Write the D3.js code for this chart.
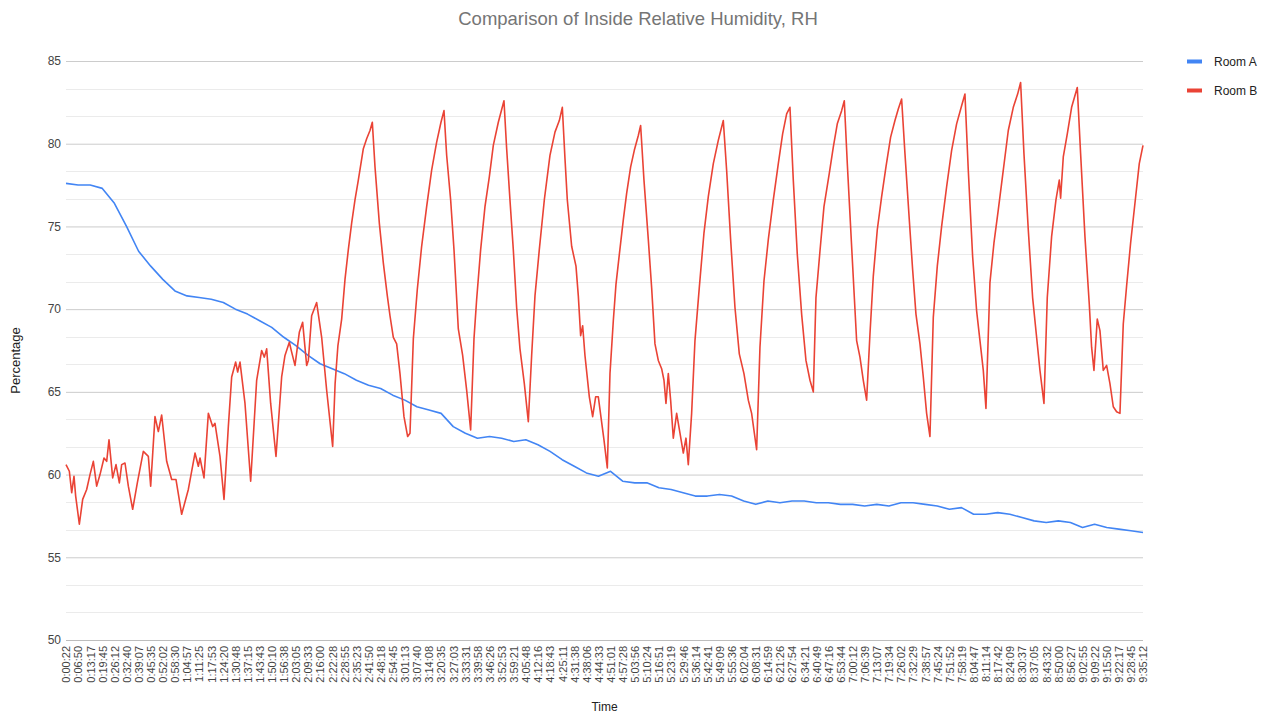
<!DOCTYPE html>
<html>
<head>
<meta charset="utf-8">
<script src="https://cdn.jsdelivr.net/npm/d3@7"></script>
<style>
  body { margin: 0; background: #fff; }
  svg { font-family: "Liberation Sans", Arial, sans-serif; }
</style>
</head>
<body>
<div class="chart"></div>
<script>
// category labels shown on the time axis
var tickLabels = [
  "0:00:22","0:06:50","0:13:17","0:19:45","0:26:12","0:32:40","0:39:07","0:45:35","0:52:02","0:58:30",
  "1:04:57","1:11:25","1:17:53","1:24:20","1:30:48","1:37:15","1:43:43","1:50:10","1:56:38","2:03:05",
  "2:09:33","2:16:00","2:22:28","2:28:55","2:35:23","2:41:50","2:48:18","2:54:45","3:01:13","3:07:40",
  "3:14:08","3:20:35","3:27:03","3:33:31","3:39:58","3:46:26","3:52:53","3:59:21","4:05:48","4:12:16",
  "4:18:43","4:25:11","4:31:38","4:38:06","4:44:33","4:51:01","4:57:28","5:03:56","5:10:24","5:16:51",
  "5:23:19","5:29:46","5:36:14","5:42:41","5:49:09","5:55:36","6:02:04","6:08:31","6:14:59","6:21:26",
  "6:27:54","6:34:21","6:40:49","6:47:16","6:53:44","7:00:12","7:06:39","7:13:07","7:19:34","7:26:02",
  "7:32:29","7:38:57","7:45:24","7:51:52","7:58:19","8:04:47","8:11:14","8:17:42","8:24:09","8:30:37",
  "8:37:05","8:43:32","8:50:00","8:56:27","9:02:55","9:09:22","9:15:50","9:22:17","9:28:45","9:35:12"
];

// Room A RH read at each labelled time
var roomA = [
  77.6, 77.5, 77.5, 77.3, 76.4, 75.0, 73.5, 72.6, 71.8, 71.1,
  70.8, 70.7, 70.6, 70.4, 70.0, 69.7, 69.3, 68.9, 68.3, 67.8,
  67.2, 66.7, 66.4, 66.1, 65.7, 65.4, 65.2, 64.8, 64.5, 64.1,
  63.9, 63.7, 62.9, 62.5, 62.2, 62.3, 62.2, 62.0, 62.1, 61.8,
  61.4, 60.9, 60.5, 60.1, 59.9, 60.2, 59.6, 59.5, 59.5, 59.2,
  59.1, 58.9, 58.7, 58.7, 58.8, 58.7, 58.4, 58.2, 58.4, 58.3,
  58.4, 58.4, 58.3, 58.3, 58.2, 58.2, 58.1, 58.2, 58.1, 58.3,
  58.3, 58.2, 58.1, 57.9, 58.0, 57.6, 57.6, 57.7, 57.6, 57.4,
  57.2, 57.1, 57.2, 57.1, 56.8, 57.0, 56.8, 56.7, 56.6, 56.5
];

// Room B RH: elapsed minutes and values
var roomBMinutes = [
  0.37, 2.15, 3.40, 4.64, 5.53, 7.49, 9.27, 11.40, 13.18, 14.96, 16.74, 18.52, 20.65, 22.08, 23.32,
  25.28, 27.06, 28.84, 30.08, 31.86, 33.64, 35.95, 38.44, 41.64, 44.31, 45.56, 47.87, 49.65, 51.43,
  54.10, 56.77, 59.08, 62.10, 65.66, 69.22, 71.00, 71.89, 74.02, 76.34, 78.65, 79.89, 82.56, 84.70,
  87.01, 88.79, 90.92, 91.99, 93.24, 95.90, 98.93, 102.13, 104.80, 106.23, 107.47, 109.60, 112.45,
  115.47, 117.25, 119.57, 120.81, 122.59, 124.90, 126.68, 128.82, 129.71, 131.48, 134.15, 136.82,
  139.49, 142.69, 144.0, 145.5,
  147.50, 149.28, 151.06, 152.83, 154.61, 156.39, 159.06, 160.84, 162.62, 163.86, 165.29, 167.60,
  169.73, 171.87, 173.29, 175.07, 176.85, 178.63, 180.76, 182.72, 183.97,
  185.75, 187.88, 190.19, 192.86, 195.53, 198.20, 200.51, 202.11, 203.54, 205.67, 207.45, 209.76,
  212.07, 214.21, 216.34,
  218.12, 219.55, 221.68, 223.99, 226.31, 228.44, 231.11, 234.13, 235.56, 237.33, 239.11, 240.89,
  242.67, 244.99, 247.12,
  248.90, 250.68, 252.99, 255.66, 258.68, 261.35, 263.67, 265.27, 266.69, 267.94, 270.25, 272.56,
  273.81, 275.05, 276.12, 277.36, 279.68, 281.46, 283.06, 284.48, 287.5, 289.28,
  290.71, 292.49, 293.91, 295.69, 297.82, 299.60, 301.74, 303.69, 305.83, 307.07, 308.85, 311.17,
  312.94, 314.72, 316.50, 318.28, 319.53, 320.59, 321.84, 323.08, 324.51, 326.29, 328.07, 329.85,
  331.27, 332.51,
  334.29, 336.07, 338.38, 340.87, 343.19, 345.86, 348.52, 351.19, 352.97, 355.11, 357.42, 359.73,
  362.22, 364.54, 366.31, 368.98,
  370.76, 372.90, 375.21, 377.88, 380.55, 382.86, 385.00, 386.77, 388.55, 390.69, 393.00, 395.31,
  397.45, 399.23,
  400.65, 402.78, 404.92, 407.76, 409.90, 412.03, 414.35, 415.77, 417.37, 419.68, 422.35, 424.13,
  425.91, 427.69,
  429.47, 431.25, 433.38, 435.70, 438.01, 440.50, 442.81, 444.59, 446.37, 448.15, 450.46, 452.24,
  454.02, 456.16, 457.93, 459.71, 461.49,
  463.27, 465.41, 467.72, 470.39, 473.06, 475.72, 478.39, 480.17, 481.95, 484.26, 486.40, 488.18,
  489.96, 491.38,
  493.51, 495.65, 497.96, 500.63, 503.30, 505.97, 508.28, 509.88, 511.66, 513.97, 516.29, 518.42,
  520.20, 522.34,
  524.11, 526.43, 528.74, 530.52, 531.23, 532.65, 534.79, 537.10, 540.12, 541.90, 544.21, 546.53,
  547.77, 549.02, 550.80, 552.22, 554.00, 555.78, 557.56, 559.34, 561.12, 562.90,
  564.67, 566.45, 568.59, 570.90, 573.21, 575.2
];
var roomB = [
  60.6, 60.2, 58.9, 59.9, 58.7, 57.0, 58.5, 59.1, 60.0, 60.8, 59.3, 60.0, 61.0, 60.8, 62.1,
  59.8, 60.6, 59.5, 60.6, 60.7, 59.3, 57.9, 59.5, 61.4, 61.1, 59.3, 63.5, 62.6, 63.6,
  60.8, 59.7, 59.7, 57.6, 59.1, 61.3, 60.5, 61.0, 59.8, 63.7, 62.9, 63.1, 61.1, 58.5,
  62.9, 65.9, 66.8, 66.2, 66.8, 64.3, 59.6, 65.7, 67.5, 67.1, 67.6, 64.3, 61.1,
  65.9, 67.2, 68.0, 67.4, 66.6, 68.6, 69.2, 66.6, 66.9, 69.6, 70.4, 68.3,
  65.1, 61.7, 65.5, 67.8,
  69.4, 71.8, 73.6, 75.2, 76.6, 77.8, 79.7, 80.3, 80.8, 81.3, 78.6, 75.2,
  72.8, 70.8, 69.6, 68.3, 67.9, 66.1, 63.5, 62.3, 62.5,
  68.2, 71.2, 73.8, 76.2, 78.4, 80.1, 81.3, 82.0, 79.3, 76.6, 73.6, 68.8,
  67.2, 65.1, 62.7,
  68.2, 70.6, 73.6, 76.2, 78.0, 79.9, 81.3, 82.6, 79.7, 76.6, 73.6, 70.1,
  67.6, 65.5, 63.2,
  67.2, 70.8, 73.6, 76.6, 79.3, 80.7, 81.4, 82.2, 79.1, 76.6, 73.8, 72.6,
  70.8, 68.4, 69.0, 67.2, 64.7, 63.5, 64.7, 64.7, 62.1, 60.4,
  66.1, 69.3, 71.5, 73.3, 75.4, 77.0, 78.6, 79.6, 80.5, 81.1, 77.8, 74.2,
  71.3, 67.9, 66.9, 66.4, 65.7, 64.3, 66.1, 64.5, 62.2, 63.7, 62.5, 61.3,
  62.2, 60.6,
  63.7, 68.1, 71.3, 74.6, 76.8, 78.8, 80.2, 81.4, 78.4, 74.2, 70.1, 67.3,
  66.1, 64.5, 63.7, 61.5,
  67.7, 71.7, 74.2, 76.6, 78.8, 80.6, 81.8, 82.2, 77.8, 73.3, 69.7, 66.9,
  65.7, 65.0,
  70.7, 73.5, 76.2, 78.2, 79.8, 81.2, 82.0, 82.6, 78.8, 73.8, 68.1, 67.1,
  65.7, 64.5,
  68.5, 72.0, 74.8, 76.8, 78.6, 80.4, 81.4, 82.1, 82.7, 79.4, 75.4, 72.4,
  69.7, 67.9, 65.9, 63.7, 62.3,
  69.5, 72.6, 75.0, 77.4, 79.6, 81.2, 82.3, 83.0, 78.4, 73.2, 69.9, 68.1,
  66.3, 64.0,
  71.6, 74.0, 76.0, 78.4, 80.8, 82.2, 83.0, 83.7, 79.4, 74.8, 70.7, 68.3,
  66.3, 64.3,
  70.7, 74.4, 76.6, 77.8, 76.7, 79.2, 80.6, 82.2, 83.4, 79.4, 74.4, 70.3,
  67.7, 66.3, 69.4, 68.7, 66.3, 66.6, 65.5, 64.1, 63.8, 63.7,
  69.1, 71.4, 74.0, 76.4, 78.8, 79.9
];

var yTicks = [50, 55, 60, 65, 70, 75, 80, 85];
var seriesNames = ["Room A", "Room B"];
var seriesColors = ["#4285f4", "#ea4335"];

var margin = {top: 61, left: 66},
    plotW = 1077,
    plotH = 579;

function toMinutes(s) {
  var p = s.split(":");
  return +p[0] * 60 + +p[1] + +p[2] / 60;
}
var tickMinutes = tickLabels.map(toMinutes);

var svg = d3.select(".chart").append("svg")
    .attr("width", 1269)
    .attr("height", 713);

svg.append("text")
    .attr("x", 638).attr("y", 25)
    .attr("text-anchor", "middle")
    .attr("font-size", "18.5px")
    .attr("fill", "#757575")
    .text("Comparison of Inside Relative Humidity, RH");

var g = svg.append("g")
    .attr("transform", "translate(" + margin.left + "," + margin.top + ")");

var x = d3.scaleLinear()
    .domain([tickMinutes[0], tickMinutes[tickMinutes.length - 1]])
    .range([0, plotW]);
var y = d3.scaleLinear().domain([50, 85]).range([plotH, 0]);

// minor gridlines (two between each labelled value)
var minor = d3.range(50, 85, 5 / 3).filter(function(d, i) { return i % 3 !== 0; });
g.selectAll(".minor").data(minor).enter().append("line")
    .attr("class", "minor")
    .attr("x1", 0).attr("x2", plotW)
    .attr("y1", function(d) { return Math.round(y(d)) + 0.5; })
    .attr("y2", function(d) { return Math.round(y(d)) + 0.5; })
    .attr("stroke", "#ebebeb");

var yAxis = d3.axisLeft(y).tickValues(yTicks).tickSize(-plotW).tickPadding(5);
var yg = g.append("g").call(yAxis);
yg.select(".domain").remove();
yg.selectAll("line").attr("stroke", function(d) { return d === 50 ? "#bdbdbd" : "#cccccc"; });
yg.selectAll("text").attr("font-size", "12px").attr("fill", "#444").attr("font-family", null);

var xAxis = d3.axisBottom(x)
    .tickValues(tickMinutes)
    .tickSize(0)
    .tickFormat(function(d, i) { return tickLabels[i]; });
var xg = g.append("g")
    .attr("transform", "translate(0," + plotH + ")")
    .call(xAxis);
xg.select(".domain").remove();
xg.selectAll("text")
    .attr("font-size", "11px")
    .attr("fill", "#444")
    .attr("font-family", null)
    .style("text-anchor", "end")
    .attr("x", -6)
    .attr("y", 0)
    .attr("dy", "0.35em")
    .attr("transform", "rotate(-90)");

var line = d3.line()
    .x(function(d) { return x(d[0]); })
    .y(function(d) { return y(d[1]); });

var seriesA = tickMinutes.map(function(t, i) { return [t, roomA[i]]; });
var seriesB = roomBMinutes.map(function(t, i) { return [t, roomB[i]]; });

[seriesA, seriesB].forEach(function(s, i) {
  g.append("path")
      .datum(s)
      .attr("fill", "none")
      .attr("stroke", seriesColors[i])
      .attr("stroke-width", 1.6)
      .attr("stroke-linejoin", "round")
      .attr("d", line);
});

// axis titles
svg.append("text")
    .attr("transform", "translate(20," + (margin.top + plotH / 2 + 10) + ") rotate(-90)")
    .attr("text-anchor", "middle")
    .attr("font-size", "13px")
    .attr("fill", "#222")
    .text("Percentage");
svg.append("text")
    .attr("x", margin.left + plotW / 2)
    .attr("y", 711)
    .attr("text-anchor", "middle")
    .attr("font-size", "12px")
    .attr("fill", "#222")
    .text("Time");

// legend
var legend = svg.selectAll(".legend").data(seriesNames).enter().append("g")
    .attr("class", "legend")
    .attr("transform", function(d, i) { return "translate(1187," + (61 + i * 29) + ")"; });
legend.append("rect")
    .attr("x", 0).attr("y", -1.5)
    .attr("width", 15).attr("height", 4)
    .attr("fill", function(d, i) { return seriesColors[i]; });
legend.append("text")
    .attr("x", 27).attr("y", 4.5)
    .attr("font-size", "12px")
    .attr("fill", "#222")
    .text(function(d) { return d; });
</script>
</body>
</html>
